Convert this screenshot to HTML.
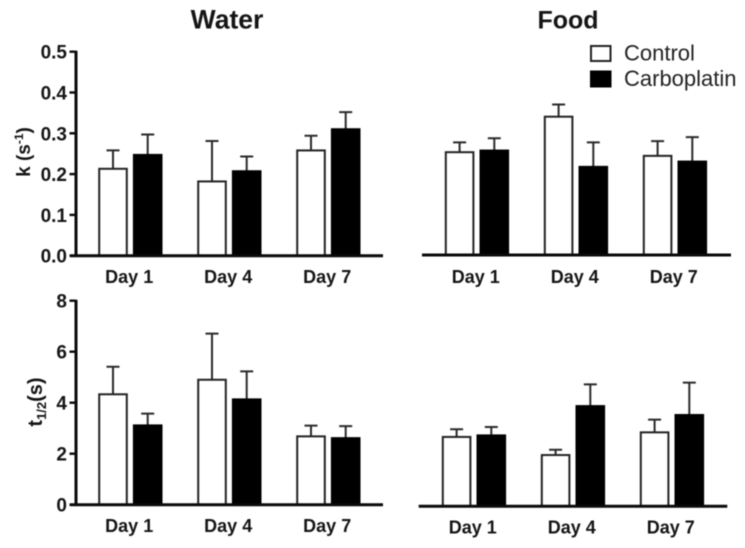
<!DOCTYPE html>
<html lang="en">
<head>
<meta charset="utf-8">
<title>Water and Food bar charts</title>
<style>
html,body{margin:0;padding:0;background:#fff;width:745px;height:548px;overflow:hidden}
svg{display:block;font-family:"Liberation Sans",sans-serif}
#marks,#static{filter:blur(0.45px)}
</style>
</head>
<body>
<svg id="chart" width="745" height="548" viewBox="0 0 745 548" xmlns="http://www.w3.org/2000/svg">
  <g id="static">
    <text x="227" y="28.5" text-anchor="middle" font-size="26.5" font-weight="700" fill="#151515">Water</text>
    <text x="568" y="28.5" text-anchor="middle" font-size="25" font-weight="700" fill="#151515">Food</text>
    <rect x="591" y="46" width="19.5" height="15" fill="#fff" stroke="#222" stroke-width="2"/>
    <rect x="590" y="70.5" width="21.5" height="17" fill="#000"/>
    <text x="624" y="60.5" font-size="22" fill="#222">Control</text>
    <text x="624" y="86" font-size="22" fill="#222">Carboplatin</text>
    <text transform="translate(30,152) rotate(-90)" text-anchor="middle" font-size="19" font-weight="700" fill="#151515">k (s<tspan dy="-7" font-size="12">-1</tspan><tspan dy="7">)</tspan></text>
    <text transform="translate(42,402) rotate(-90)" text-anchor="middle" font-size="20" font-weight="700" fill="#151515">t<tspan dy="4" font-size="13">1/2</tspan><tspan dy="-4">(s)</tspan></text>
  </g>
  <g id="marks"></g>
</svg>
<script>
var categories = ['Day 1', 'Day 4', 'Day 7'];

var kTicks = ['0.0', '0.1', '0.2', '0.3', '0.4', '0.5'];
var halfLifeTicks = ['0', '2', '4', '6', '8'];

var waterKControl = [0.213, 0.182, 0.258];
var waterKCarboplatin = [0.247, 0.207, 0.310];
var waterKControlTop = [0.258, 0.281, 0.294];
var waterKCarboplatinTop = [0.297, 0.243, 0.352];

var foodKControl = [0.252, 0.339, 0.243];
var foodKCarboplatin = [0.256, 0.216, 0.229];
var foodKControlTop = [0.276, 0.369, 0.279];
var foodKCarboplatinTop = [0.286, 0.276, 0.289];

var waterHalfControl = [4.33, 4.90, 2.68];
var waterHalfCarboplatin = [3.11, 4.13, 2.61];
var waterHalfControlTop = [5.41, 6.71, 3.10];
var waterHalfCarboplatinTop = [3.57, 5.23, 3.08];

var foodHalfControl = [2.72, 2.01, 2.90];
var foodHalfCarboplatin = [2.78, 3.93, 3.58];
var foodHalfControlTop = [3.02, 2.22, 3.40];
var foodHalfCarboplatinTop = [3.11, 4.78, 4.85];

var SVGNS = 'http://www.w3.org/2000/svg';
var root = document.getElementById('marks');

function make(tag, attrs, parent) {
  var el = document.createElementNS(SVGNS, tag);
  for (var k in attrs) { el.setAttribute(k, attrs[k]); }
  parent.appendChild(el);
  return el;
}

function drawPanel(cfg) {
  var g = make('g', {}, root);
  
  

  function yPos(v) { return cfg.y0 - v * cfg.scale; }
  function groupX(i) { return cfg.firstBar + i * 99; }

  categories.forEach(function (cat, i) {
    var cx = groupX(i);
    var series = [
      { val: cfg.control[i], top: cfg.controlTop[i], x: cx, fill: '#fff', key: 'control' },
      { val: cfg.carbo[i], top: cfg.carboTop[i], x: cx + 34.7, fill: '#000', key: 'carboplatin' }
    ];
    series.forEach(function (s) {
      var mid = s.x + 13.8;
      var err = make('path', {
        d: 'M' + mid + ' ' + yPos(s.val) + 'V' + yPos(s.top) + 'M' + (mid - 6.5) + ' ' + yPos(s.top) + 'H' + (mid + 6.5),
        fill: 'none', stroke: '#2a2a2a', 'stroke-width': 2
      }, g);
      
      
      var h = Math.max(0, cfg.y0 - yPos(s.val));
      var bar = make('rect', {
        x: s.x, y: yPos(s.val), width: 27.6, height: h,
        fill: s.fill, stroke: s.key === 'control' ? '#222' : '#000', 'stroke-width': 2
      }, g);
      
      
    });
    var label = make('text', {
      x: cx + 30, y: cfg.labelY, 'text-anchor': 'middle',
      'font-size': 18, 'font-weight': 700, fill: '#151515'
    }, g);
    label.textContent = cat;
    
    
  });

  var xAxis = make('line', {
    x1: cfg.axisStart, x2: cfg.axisEnd, y1: cfg.y0, y2: cfg.y0,
    stroke: '#0a0a0a', 'stroke-width': 3
  }, g);
  
  

  if (cfg.ticks) {
    var axisX = 76;
    var yAxis = make('line', {
      x1: axisX, x2: axisX, y1: yPos(cfg.tickStep * (cfg.ticks.length - 1)) - 1, y2: cfg.y0 + 1,
      stroke: '#0a0a0a', 'stroke-width': 3
    }, g);
    
    
    cfg.ticks.forEach(function (t, i) {
      var y = yPos(cfg.tickStep * i);
      var tick = make('line', { x1: 69.5, x2: axisX, y1: y, y2: y, stroke: '#0a0a0a', 'stroke-width': 2.4 }, g);
      
      
      var lab = make('text', {
        x: 67, y: y + 7, 'text-anchor': 'end',
        'font-size': 19, 'font-weight': 700, fill: '#151515'
      }, g);
      lab.textContent = t;
      
      
    });
  }
}

drawPanel({
  name: 'panel-water-k', y0: 255.7, scale: 408, firstBar: 99.2,
  axisStart: 70, axisEnd: 383, labelY: 283,
  control: waterKControl, carbo: waterKCarboplatin,
  controlTop: waterKControlTop, carboTop: waterKCarboplatinTop,
  ticks: kTicks, tickStep: 0.1
});
drawPanel({
  name: 'panel-food-k', y0: 255, scale: 408, firstBar: 445.8,
  axisStart: 422, axisEnd: 731, labelY: 283,
  control: foodKControl, carbo: foodKCarboplatin,
  controlTop: foodKControlTop, carboTop: foodKCarboplatinTop
});
drawPanel({
  name: 'panel-water-half-life', y0: 504.7, scale: 25.5, firstBar: 99.2,
  axisStart: 70, axisEnd: 383, labelY: 532,
  control: waterHalfControl, carbo: waterHalfCarboplatin,
  controlTop: waterHalfControlTop, carboTop: waterHalfCarboplatinTop,
  ticks: halfLifeTicks, tickStep: 2
});
drawPanel({
  name: 'panel-food-half-life', y0: 506.3, scale: 25.5, firstBar: 442.8,
  axisStart: 418.7, axisEnd: 727.3, labelY: 533.5,
  control: foodHalfControl, carbo: foodHalfCarboplatin,
  controlTop: foodHalfControlTop, carboTop: foodHalfCarboplatinTop
});
</script>
</body>
</html>
